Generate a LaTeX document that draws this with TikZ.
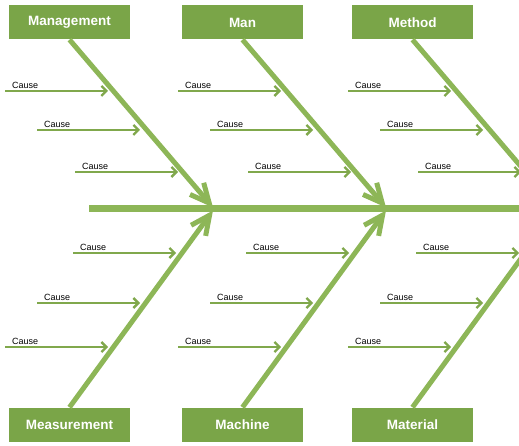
\documentclass[tikz,border=0pt]{standalone}
\usepackage{fontspec}
\setmainfont{Liberation Sans}
\usetikzlibrary{arrows.meta}

\definecolor{boxgreen}{RGB}{122,165,72}
\definecolor{bonegreen}{RGB}{141,182,87}
\definecolor{causegreen}{RGB}{128,168,76}

\begin{document}
\begin{tikzpicture}[x=1pt,y=-1pt]
		\tikzstyle{category}=[fill=boxgreen,text=white,font=\bfseries\fontsize{13.5}{14}\selectfont,minimum width=121pt,minimum height=34pt,inner sep=0pt]
		\tikzstyle{bone}=[bonegreen,line width=5pt,-{Straight Barb[length=19pt,width=18pt]}]
		\tikzstyle{spine}=[bonegreen,line width=7pt]
		\tikzstyle{causearrow}=[causegreen,line width=2.3pt,-{Straight Barb[length=5pt,width=10pt]}]
		\tikzstyle{cause}=[anchor=base west,inner sep=0pt,font=\fontsize{9}{10}\selectfont]

		\useasboundingbox (0,0) rectangle (519,446);
		\clip (0,0) rectangle (519,446);

		% categories
		\node[category](management) at (69.5,22.5){Management};
		\node[category](man) at (242.5,22.5){Man};
		\node[category](method) at (412.5,22.5){Method};
		\node[category](measurement) at (69.5,424.5){Measurement};
		\node[category](machine) at (242.5,424.5){Machine};
		\node[category](material) at (412.5,424.5){Material};

		% spine
		\coordinate (tail) at (89,209);
		\coordinate (head) at (530,209);
		\draw[spine] (tail) -- (head);

		% bones
		\coordinate (jm) at (213,207.5);
		\coordinate (jn) at (386,207.5);
		\coordinate (jt) at (556,207.5);
		\coordinate (km) at (213,210.5);
		\coordinate (kn) at (386,210.5);
		\coordinate (kt) at (556,210.5);
		\draw[bone] (management.south) -- (jm);
		\draw[bone] (man.south) -- (jn);
		\draw[bone] (method.south) -- (jt);
		\draw[bone] (measurement.north) -- (km);
		\draw[bone] (machine.north) -- (kn);
		\draw[bone] (material.north) -- (kt);

		% causes
		\foreach \g/\dx in {a/0,b/173,c/343}{
			\foreach \r/\xs/\yy in {1/5/91,2/37/130,3/75/172,4/73/253,5/37/303,6/5/347}{
				\coordinate (s\g\r) at (\xs+\dx,\yy);
				\coordinate (e\g\r) at (\xs+\dx+103,\yy);
				\node[cause](l\g\r) at (\xs+\dx+7,\yy-2.5) {Cause};
				\draw[causearrow] (s\g\r) -- (e\g\r);
			}
		}
	\end{tikzpicture}
\end{document}
